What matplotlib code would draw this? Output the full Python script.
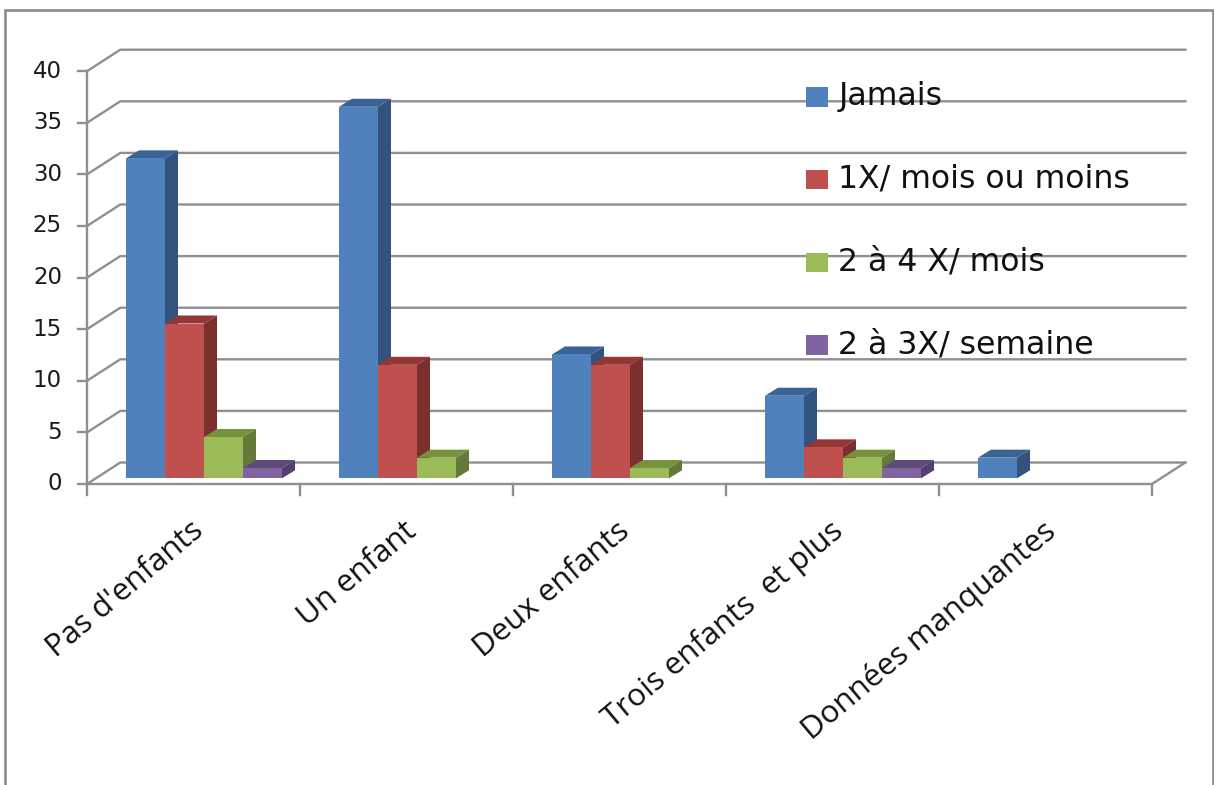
#!/usr/bin/env python3
import matplotlib
matplotlib.use('Agg')
import matplotlib.pyplot as plt
from matplotlib.patches import Polygon

# Data
categories = ["Pas d'enfants", "Un enfant", "Deux enfants", "Trois enfants  et plus", "Données manquantes"]
series_names = ["Jamais", "1X/ mois ou moins", "2 à 4 X/ mois", "2 à 3X/ semaine"]
jamais = [31, 36, 12, 8, 2]
une_fois = [15, 11, 11, 3, 0]
deux_quatre = [4, 2, 1, 2, 0]
deux_trois = [1, 0, 0, 1, 0]
y_ticks = [0, 5, 10, 15, 20, 25, 30, 35, 40]

front_colors = ['#4F81BD', '#C0504D', '#9BBB59', '#8064A2']
side_colors = ['#32537D', '#7C302E', '#657A3A', '#54406E']
top_colors = ['#3A6395', '#943634', '#76923C', '#604A7B']
GRAY = '#8f8f8f'

# Pixel scale of the picture
W, H = 1214, 785
X0, CAT_W = 87.0, 213.0
Y0, UNIT = 484.0, 10.32

fig = plt.figure(figsize=(W / 100, H / 100), dpi=100, facecolor='white')
ax = fig.add_axes([0, 0, 1, 1])
ax.set_xlim(-X0 / CAT_W, (W - X0) / CAT_W)
ax.set_ylim((Y0 - H) / UNIT, Y0 / UNIT)
ax.axis('off')

# Depth of the 3D box and of the bars, in data units
wall_dx = 33.3 / CAT_W
wall_dy = 21.5 / UNIT
bar_dx = 13.0 / CAT_W
bar_dy = 8.0 / UNIT
bar_w = 39.0 / CAT_W
bar_base = 5.7 / UNIT
bar_start = 39.0 / CAT_W
n_cat = len(categories)

# Back wall gridlines and side ticks
for v in y_ticks:
    ax.plot([0, wall_dx, n_cat + wall_dx], [v, v + wall_dy, v + wall_dy],
            color=GRAY, lw=1.7, zorder=1, solid_joinstyle='miter')
    ax.plot([-9 / CAT_W, 0], [v, v], color=GRAY, lw=1.7, zorder=1)
    ax.text(-25 / CAT_W, v, str(v), ha='right', va='center', fontsize=16.5,
            color='#1a1a1a', family='DejaVu Sans')

# Axes lines
ax.plot([0, 0], [0, y_ticks[-1]], color=GRAY, lw=1.7, zorder=1)
ax.plot([0, n_cat, n_cat + wall_dx], [0, 0, wall_dy], color=GRAY, lw=1.7, zorder=1,
        solid_joinstyle='miter')
for i in range(n_cat + 1):
    ax.plot([i, i], [0, -11 / UNIT], color=GRAY, lw=1.7, zorder=1)

# Bars, left to right so each front covers the previous side
all_series = [jamais, une_fois, deux_quatre, deux_trois]
handles = []
for s, values in enumerate(all_series):
    for i, v in enumerate(values):
        if v == 0:
            continue
        left = i + bar_start + s * bar_w
        top = bar_base + v
        right = left + bar_w
        ax.add_patch(Polygon([(right, bar_base), (right + bar_dx, bar_base + bar_dy),
                              (right + bar_dx, top + bar_dy), (right, top)],
                             closed=True, facecolor=side_colors[s], edgecolor='none', zorder=2))
        ax.add_patch(Polygon([(left, top), (left + bar_dx, top + bar_dy),
                              (right + bar_dx, top + bar_dy), (right, top)],
                             closed=True, facecolor=top_colors[s], edgecolor='none', zorder=2))
    handles.append(ax.bar([i + bar_start + s * bar_w for i in range(n_cat)], values, bar_w,
                          bottom=bar_base, align='edge', color=front_colors[s], zorder=3 + s,
                          label=series_names[s]))

# Category labels
for i, name in enumerate(categories):
    ax.text(i + 0.53, -4.2, name, rotation=40, rotation_mode='anchor', ha='right', va='center',
            fontsize=22.5, family='Open Sans', color='#111111')

# Legend
leg = ax.legend(handles=handles, loc='upper left', bbox_to_anchor=(806 / W, 1 - 84 / H),
                frameon=False, fontsize=22.7, labelspacing=1.64, handlelength=0.7,
                handleheight=0.57, handletextpad=0.33, borderpad=0, borderaxespad=0,
                labelcolor='#111111')
leg.set_zorder(10)
for t in leg.get_texts():
    t.set_y(3)  # sit the text a little higher against the swatch

# Outer frame, open at the bottom
ax.plot([5 / W, 5 / W, 1212.5 / W, 1212.5 / W], [0, 1 - 9.5 / H, 1 - 9.5 / H, 0],
        transform=ax.transAxes, color='#8c8c8c', lw=1.9, zorder=1, solid_joinstyle='miter',
        clip_on=False)

fig.savefig('out.png', dpi=100)
